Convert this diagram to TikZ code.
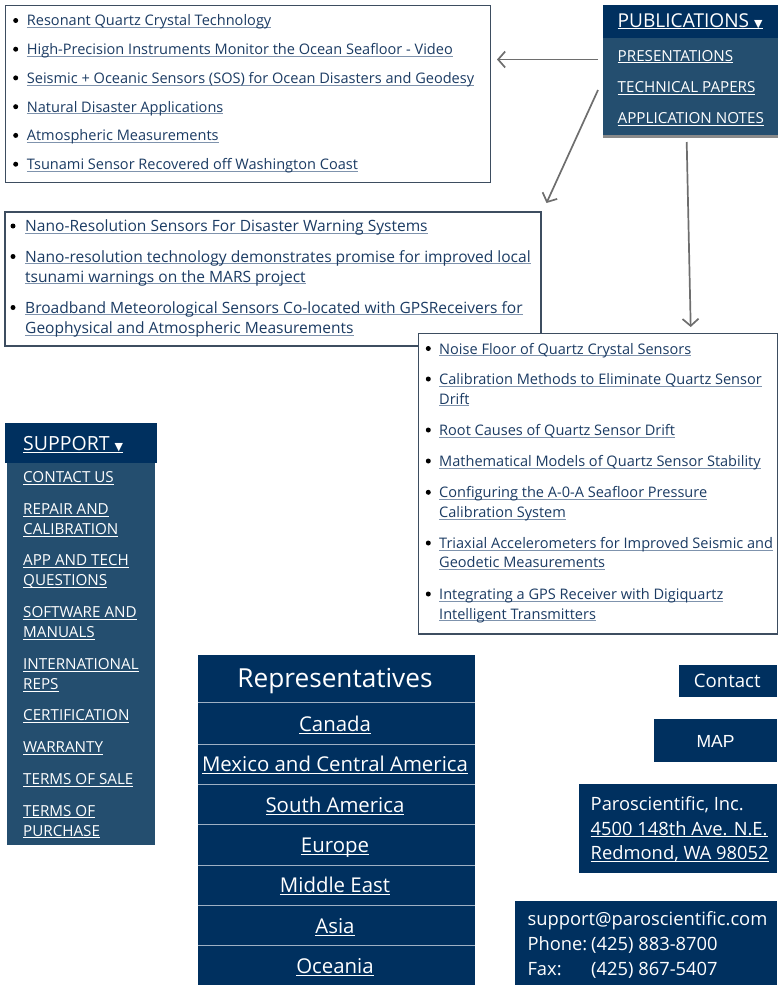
\documentclass[tikz,border=0pt]{standalone}
\usepackage{fontspec}
\setmainfont{Open Sans}
\newfontfamily\dejavu{DejaVu Sans}
\newfontfamily\arialf{Liberation Sans}
\usetikzlibrary{arrows.meta}
\definecolor{navy}{HTML}{00305F}
\definecolor{menublue}{HTML}{244E6F}
\definecolor{boxline}{HTML}{3D4D60}
\definecolor{linkc}{HTML}{1B3B63}
\definecolor{ulc}{HTML}{7F93AD}
\definecolor{arrowc}{HTML}{6E6E6E}
\definecolor{sepc}{HTML}{9EB0C4}
\definecolor{shadowc}{HTML}{8A8A8A}
\newsavebox\myulbox
\newcommand\ulwith[2]{\sbox\myulbox{#2}\rlap{\textcolor{#1}{\rule[-2.4pt]{\wd\myulbox}{1.1pt}}}\usebox\myulbox}
\newcommand\lk[1]{\ulwith{ulc}{#1}}
\newcommand\wl[1]{\ulwith{white}{#1}}
\newcommand\tri{{\dejavu\fontsize{11}{11}\selectfont ▼}}
\tikzset{
  listbox/.style={draw=boxline, line width=1.1pt, fill=white, inner sep=0},
  li/.style={anchor=base west, inner sep=0, text=linkc, font=\fontsize{14.55}{18}\selectfont},
  lib/.style={anchor=base west, inner sep=0, text=linkc, font=\fontsize{15.55}{18}\selectfont},
  bul/.style={circle, fill=black, inner sep=0, minimum size=5pt},
  mi/.style={anchor=base west, inner sep=0, text=white, font=\fontsize{15.2}{18}\selectfont},
  panel/.style={fill=navy, inner sep=0, draw=none},
  menupanel/.style={fill=menublue, inner sep=0, draw=none},
  rep/.style={anchor=base, inner sep=0, text=white, font=\fontsize{20.4}{24}\selectfont},
  ct/.style={anchor=base west, inner sep=0, text=white, font=\fontsize{18.35}{22}\selectfont},
  sep/.style={draw=sepc, line width=1pt},
  arr/.style={draw=arrowc, line width=1.7pt, -{Straight Barb[length=7pt,width=16pt,line width=1.7pt]}}
}
\begin{document}
\begin{tikzpicture}[x=1pt,y=-1pt]
\useasboundingbox (0,0) rectangle (783,991);
% ---------- box 1 ----------
\node[listbox, minimum width=485pt, minimum height=177pt] (box1) at (248.3,94.2) {};
\foreach \yy/\txt [count=\i] in {25.8/Resonant Quartz Crystal Technology,
  54.5/High-Precision Instruments Monitor the Ocean Seafloor - Video,
  83.2/Seismic + Oceanic Sensors (SOS) for Ocean Disasters and Geodesy,
  112/Natural Disaster Applications,
  140.7/Atmospheric Measurements,
  169.5/Tsunami Sensor Recovered off Washington Coast}{
  \node[bul] (ba\i) at (15.7,\yy-5.3) {};
  \node[li] (ta\i) at (26.7,\yy) {\lk{\txt}};
}
% ---------- publications menu ----------
\node[fill=shadowc, inner sep=0, minimum width=175pt, minimum height=4pt] (pubshadow) at (690.5,136) {};
\node[menupanel, minimum width=175pt, minimum height=98pt] (pubbody) at (690.5,86) {};
\node[panel, minimum width=175pt, minimum height=33pt] (pubhead) at (690.5,21.5) {};
\node[mi, font=\fontsize{19.1}{22}\selectfont] (pubt) at (617.5,27) {\wl{PUBLICATIONS \tri}};
\node[mi] (pres) at (617.5,61) {\wl{PRESENTATIONS}};
\node[mi] (tech) at (617.5,92.5) {\wl{TECHNICAL PAPERS}};
\node[mi] (appn) at (617.5,123.3) {\wl{APPLICATION NOTES}};
% ---------- box 2 ----------
\node[listbox, minimum width=536pt, minimum height=134pt] (box2) at (273,279) {};
\node[bul] (bb1) at (13,226) {};
\node[lib] (tb1) at (25,231.5) {\lk{Nano-Resolution Sensors For Disaster Warning Systems}};
\node[bul] (bb2) at (13,256.5) {};
\node[lib] (tb2) at (25,262) {\lk{Nano-resolution technology demonstrates promise for improved local}};
\node[lib] (tb2b) at (25,282) {\lk{tsunami warnings on the MARS project}};
\node[bul] (bb3) at (13,307.5) {};
\node[lib] (tb3) at (25,313) {\lk{Broadband Meteorological Sensors Co-located with GPSReceivers for}};
\node[lib] (tb3b) at (25,333.3) {\lk{Geophysical and Atmospheric Measurements}};
% ---------- box 3 ----------
\node[listbox, minimum width=359pt, minimum height=300.7pt] (box3) at (597.8,483.6) {};
\node[bul] (bc1) at (428.3,348.5) {};
\node[li] (tc1) at (439,354) {\lk{Noise Floor of Quartz Crystal Sensors}};
\node[bul] (bc2) at (428.3,379) {};
\node[li] (tc2) at (439,384.5) {\lk{Calibration Methods to Eliminate Quartz Sensor}};
\node[li] (tc2b) at (439,404) {\lk{Drift}};
\node[bul] (bc3) at (428.3,430) {};
\node[li] (tc3) at (439,435.5) {\lk{Root Causes of Quartz Sensor Drift}};
\node[bul] (bc4) at (428.3,461) {};
\node[li] (tc4) at (439,466.5) {\lk{Mathematical Models of Quartz Sensor Stability}};
\node[bul] (bc5) at (428.3,492.3) {};
\node[li] (tc5) at (439,497.7) {\lk{Configuring the A-0-A Seafloor Pressure}};
\node[li] (tc5b) at (439,517.4) {\lk{Calibration System}};
\node[bul] (bc6) at (428.3,543) {};
\node[li] (tc6) at (439,548.5) {\lk{Triaxial Accelerometers for Improved Seismic and}};
\node[li] (tc6b) at (439,567.5) {\lk{Geodetic Measurements}};
\node[bul] (bc7) at (428.3,594) {};
\node[li] (tc7) at (439,599.4) {\lk{Integrating a GPS Receiver with Digiquartz}};
\node[li] (tc7b) at (439,619) {\lk{Intelligent Transmitters}};
% ---------- arrows ----------
\coordinate (a1s) at (598,59.5);
\coordinate (a1e) at (497,59.5);
\coordinate (a2s) at (598,90);
\coordinate (a2e) at (546.5,203);
\coordinate (a3s) at (686.7,142);
\coordinate (a3e) at (690.7,327);
\draw[arr] (a1s) -- (a1e);
\draw[arr] (a2s) -- (a2e);
\draw[arr] (a3s) -- (a3e);
% ---------- support menu ----------
\node[menupanel, minimum width=148pt, minimum height=384pt] (supbody) at (81,653) {};
\node[panel, minimum width=152pt, minimum height=40pt] (suphead) at (81,443) {};
\node[mi, font=\fontsize{19.5}{22}\selectfont] (supt) at (23,450.7) {\wl{SUPPORT \tri}};
\node[mi] (s1) at (23,482.7) {\wl{CONTACT US}};
\node[mi] (s2) at (23,514.3) {\wl{REPAIR AND}};
\node[mi] (s2b) at (23,534.3) {\wl{CALIBRATION}};
\node[mi] (s3) at (23,565.7) {\wl{APP AND TECH}};
\node[mi] (s3b) at (23,585.7) {\wl{QUESTIONS}};
\node[mi] (s4) at (23,617.3) {\wl{SOFTWARE AND}};
\node[mi] (s4b) at (23,637.3) {\wl{MANUALS}};
\node[mi] (s5) at (23,669.3) {\wl{INTERNATIONAL}};
\node[mi] (s5b) at (23,689.3) {\wl{REPS}};
\node[mi] (s6) at (23,720.7) {\wl{CERTIFICATION}};
\node[mi] (s7) at (23,752.3) {\wl{WARRANTY}};
\node[mi] (s8) at (23,784.3) {\wl{TERMS OF SALE}};
\node[mi] (s9) at (23,816) {\wl{TERMS OF}};
\node[mi] (s9b) at (23,836) {\wl{PURCHASE}};
% ---------- representatives ----------
\node[panel, minimum width=277pt, minimum height=330pt] (reps) at (336.5,820) {};
\node[rep, font=\fontsize{26.2}{28}\selectfont] (rh) at (335,687.3) {Representatives};
\foreach \yy in {702.7,744.3,784.3,824.3,865.7,905.7,945.7}{
  \draw[sep] (reps.west |- 0,\yy) -- (reps.east |- 0,\yy);
}
\node[rep] (r1) at (335,731.7) {\wl{Canada}};
\node[rep] (r2) at (335,771.7) {\wl{Mexico and Central America}};
\node[rep] (r3) at (335,812.7) {\wl{South America}};
\node[rep] (r4) at (335,852.7) {\wl{Europe}};
\node[rep] (r5) at (335,892.7) {\wl{Middle East}};
\node[rep] (r6) at (335,933.3) {\wl{Asia}};
\node[rep] (r7) at (335,973.3) {\wl{Oceania}};
% ---------- contact boxes ----------
\node[panel, minimum width=98pt, minimum height=32pt] (cbox) at (728,681) {};
\node[rep, font=\fontsize{18.6}{24}\selectfont] (ctext) at (727.3,687.7) {Contact};
\node[panel, minimum width=123pt, minimum height=43pt] (mapbox) at (715.5,740) {};
\node[rep, font=\arialf\fontsize{17.5}{20}\selectfont] (maptext) at (mapbox.center |- 0,747) {MAP};
\node[panel, minimum width=198pt, minimum height=89pt] (addr) at (678,828.7) {};
\node[ct] (ad1) at (590.5,810) {Paroscientific, Inc.};
\node[ct] (ad2) at (590.5,835) {\wl{4500 148th Ave. N.E.}};
\node[ct] (ad3) at (590.5,859.3) {\wl{Redmond, WA 98052}};
\node[panel, minimum width=262pt, minimum height=84pt] (mail) at (646,943) {};
\node[ct] (m1) at (527.3,925) {support@paroscientific.com};
\node[ct] (m2) at (527.3,950) {Phone:};
\node[ct] (m2n) at (591,950) {(425) 883-8700};
\node[ct] (m3) at (527.3,975) {Fax:};
\node[ct] (m3n) at (591,975) {(425) 867-5407};
\end{tikzpicture}
\end{document}
